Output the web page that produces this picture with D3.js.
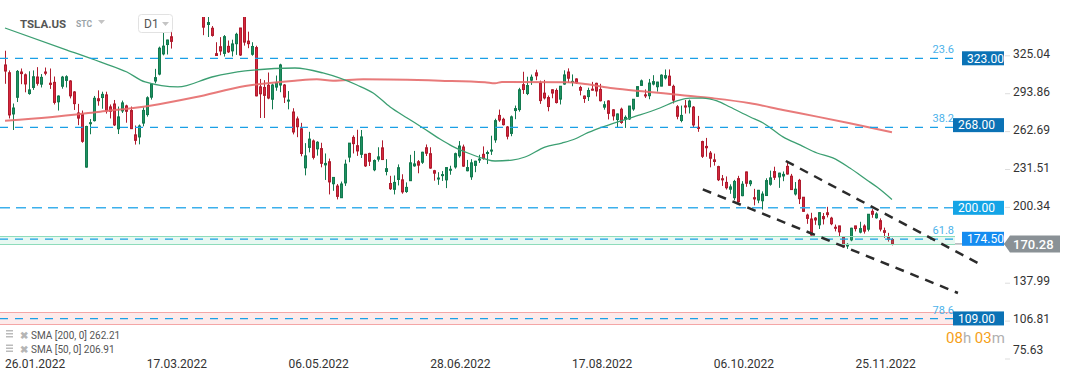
<!DOCTYPE html>
<html><head><meta charset="utf-8">
<script src="https://cdn.jsdelivr.net/npm/d3@7"></script>
<style>
html,body{margin:0;padding:0;background:#fff;}
svg{display:block;font-family:Roboto,"Open Sans",sans-serif;}
</style></head><body>
<svg id="chart" width="1072" height="382"></svg>
<script>
// ---------- DATA (TSLA.US daily, 26.01.2022 – 08.12.2022) ----------
const opens = [
317.5,311.1,277.2,290.9,311.7,309.4,294.0,299.0,307.6,301.7,
311.7,302.5,303.2,287.2,300.0,304.8,304.3,295.3,278.0,276.7,
233.5,269.7,271.7,289.7,290.7,292.9,283.0,285.4,265.0,279.7,
283.8,280.0,260.0,258.3,269.7,276.7,291.0,304.3,310.0,326.6,
334.3,340.7,360.0,369.3,363.0,365.2,361.2,363.1,380.5,357.8,
350.8,347.7,326.8,332.5,327.0,332.8,329.1,335.0,347.9,358.2,
337.1,326.3,331.8,299.5,299.0,300.8,289.3,299.3,301.0,301.0,
288.0,278.8,273.1,265.0,232.9,249.7,255.0,248.5,248.7,235.3,
237.9,219.8,217.9,208.3,220.5,241.7,257.9,251.1,244.0,244.0,
244.7,231.3,240.0,249.3,229.9,220.0,215.2,223.3,223.0,213.4,
222.3,234.5,237.9,237.5,249.4,244.5,230.5,224.5,227.0,223.0,
231.7,233.6,242.8,250.0,230.5,225.5,234.9,240.0,244.0,245.0,
247.1,255.9,276.0,272.8,266.5,261.2,280.0,280.8,301.3,294.0,
305.0,311.0,302.7,294.3,290.7,297.1,296.5,289.4,301.8,311.7,
303.4,306.0,299.0,291.9,291.5,297.6,302.4,297.4,282.8,287.9,
280.6,272.6,281.1,272.7,273.1,281.3,291.7,300.7,292.9,292.2,
301.8,299.6,300.1,306.9,308.3,299.9,283.1,271.8,283.8,283.1,
282.8,266.2,254.5,250.5,245.0,239.4,233.9,223.9,220.9,215.3,
208.3,224.0,210.0,229.5,219.8,208.3,206.4,205.8,210.1,219.4,
229.8,225.4,226.2,234.1,226.0,211.4,222.6,208.7,194.0,190.8,
191.5,186.0,192.8,195.9,191.5,184.0,185.1,175.9,168.6,173.6,
185.1,180.0,185.0,182.4,197.1,191.8,189.4,181.2,175.8,173.9];
const highs = [
329.2,313.0,285.8,313.3,314.6,310.5,312.3,313.0,315.7,310.0,
315.4,314.6,308.0,292.5,308.5,309.0,305.0,296.0,285.5,280.0,
267.5,273.0,292.0,296.6,295.5,295.5,285.0,288.7,283.3,288.2,
284.8,283.3,267.7,268.5,282.7,291.7,302.6,314.3,332.6,346.9,
338.3,345.0,367.0,371.6,370.8,366.7,364.5,383.3,384.3,359.0,
358.9,349.5,336.2,340.4,342.1,337.6,338.3,344.0,348.0,364.1,
344.9,336.2,333.3,306.0,305.0,311.3,302.1,308.8,318.5,301.8,
296.0,281.9,275.1,269.9,253.2,262.5,256.2,254.8,253.5,244.7,
240.5,224.7,219.6,221.6,239.6,253.3,259.6,264.2,264.0,244.4,
245.3,239.8,249.8,255.5,240.0,226.3,226.6,235.7,227.6,220.9,
243.6,246.8,239.3,246.1,252.1,249.8,231.2,229.3,230.2,233.1,
234.6,245.4,254.9,252.0,239.4,240.0,238.7,243.6,250.5,247.1,
259.3,273.3,280.8,274.1,267.3,275.9,284.1,298.7,311.9,307.8,
309.6,313.6,304.6,305.2,292.4,297.5,298.2,300.2,313.1,314.7,
309.7,306.5,300.4,292.4,298.8,303.6,302.9,302.0,287.7,288.5,
281.2,277.6,282.4,276.0,283.8,289.5,299.9,305.5,297.4,306.0,
309.1,303.7,309.8,313.8,313.8,301.3,284.5,284.1,288.7,289.0,
283.7,275.6,255.2,257.5,246.7,244.6,234.6,227.0,225.8,219.3,
223.0,226.3,221.9,229.8,222.9,215.6,214.7,213.5,224.3,230.6,
233.8,228.9,229.9,237.4,227.9,221.2,223.8,208.9,195.2,195.9,
192.4,196.5,195.7,200.8,192.6,186.2,185.2,176.8,170.9,183.6,
185.2,188.5,186.4,194.8,198.9,196.3,191.3,183.7,179.4,175.2];
const lows = [
302.0,273.5,264.0,287.0,301.7,295.0,293.0,297.0,300.5,299.0,
309.0,297.8,285.0,280.0,298.0,299.0,290.0,280.5,268.0,253.5,
233.0,260.5,271.0,284.0,281.5,277.5,273.5,267.3,260.7,278.0,
270.0,264.8,252.0,252.2,267.0,275.0,289.0,302.4,309.0,325.4,
326.1,331.0,358.5,359.5,359.5,359.0,357.4,361.0,362.4,342.0,
340.5,340.8,324.9,325.5,324.4,327.4,324.5,325.8,324.9,333.4,
331.3,325.1,291.7,273.9,273.9,289.3,281.0,296.3,295.1,286.2,
281.0,260.4,258.1,242.4,226.7,245.6,239.8,242.9,233.3,222.9,
211.0,214.0,206.9,208.3,218.0,237.5,244.7,242.7,241.0,233.6,
234.4,230.1,238.0,239.3,226.7,214.7,211.0,218.4,211.6,212.3,
222.2,233.8,228.4,236.1,242.6,232.1,222.3,218.9,222.1,216.2,
227.2,232.2,241.2,233.7,230.0,223.0,229.3,236.9,239.6,236.0,
243.5,253.5,270.7,267.7,256.3,258.9,272.9,279.1,293.7,292.7,
301.1,305.0,285.5,289.1,279.4,290.1,285.8,285.0,301.2,302.9,
300.0,301.9,292.5,286.3,287.9,296.5,291.6,287.5,280.7,272.7,
271.8,266.2,269.1,265.7,272.3,279.8,291.3,300.4,290.4,289.3,
300.7,295.6,300.0,305.6,300.6,285.8,272.8,270.3,277.5,277.6,
265.8,262.5,241.0,242.0,233.3,234.7,222.0,218.0,215.0,211.5,
206.2,204.2,209.5,217.3,217.8,202.0,203.8,198.6,210.0,218.2,
222.9,216.4,221.9,227.3,214.8,210.1,203.1,196.7,186.8,177.1,
186.0,182.6,186.3,192.1,185.7,180.6,176.6,167.5,166.2,172.5,
180.6,179.0,178.8,180.6,191.8,191.1,180.6,175.3,172.2,169.1];
const closes = [
312.5,276.4,282.1,312.2,310.4,301.9,297.0,307.8,302.4,307.3,
310.7,301.5,286.7,291.9,307.5,307.8,292.1,285.7,273.8,254.7,
266.9,270.0,290.1,288.1,293.3,279.8,279.4,268.2,274.8,286.3,
279.4,265.1,255.5,267.3,280.1,290.5,301.8,307.1,331.3,333.0,
338.0,336.9,364.0,366.5,364.7,359.2,361.5,381.8,363.8,348.6,
352.4,341.8,325.3,329.0,340.8,328.3,334.8,342.7,325.7,336.3,
335.0,332.7,292.1,293.8,292.5,290.3,301.0,303.1,317.5,291.1,
288.6,262.4,266.7,244.7,242.7,256.5,241.5,253.9,236.6,236.5,
221.3,225.0,209.4,219.6,235.9,253.2,252.8,246.8,258.3,234.5,
238.3,238.9,241.9,239.7,232.2,215.7,220.9,233.0,213.1,216.8,
237.0,236.1,235.1,245.7,244.9,232.7,228.5,224.5,227.3,233.1,
231.7,244.5,250.8,234.3,233.1,237.0,238.3,240.1,240.5,245.5,
247.5,271.7,272.2,268.4,258.9,274.8,281.6,297.1,297.3,300.6,
307.4,308.6,288.2,290.4,283.3,294.4,286.6,300.0,309.3,306.6,
304.0,302.9,296.7,289.9,296.5,297.1,296.1,288.1,284.8,277.7,
275.6,277.2,270.2,274.4,283.7,289.3,299.7,304.4,292.1,302.6,
303.8,303.4,309.1,308.7,300.8,288.6,275.3,276.0,282.9,287.8,
268.2,265.3,242.4,249.4,240.8,238.1,223.1,223.0,216.5,217.2,
221.7,205.0,219.4,220.2,222.0,207.3,214.4,211.3,222.4,224.6,
225.1,228.5,227.5,227.8,215.0,215.3,207.5,197.1,191.3,177.6,
190.0,196.0,191.0,194.4,186.9,183.2,180.2,167.9,169.9,183.2,
182.9,182.9,180.8,194.7,194.7,194.9,182.5,179.8,174.0,170.28];

// moving averages (candle index, value)
const sma50Idx = [0,15.3,23.5,30.1,34.6,42.7,51.1,59.3,71.6,78.5,86.9,90.9,95.1,99.3,103.2,107.4,110.4,114.3,118.5,121,125.2,128.4,133.3,137.5,140.7,143.2,146.9,151.9,156.8,161.7,165.9,169.1,172.3,175.8,179,184,187.2,192.1,196.3,200.5,204.4,208.6,212.8,215.3,219];
const sma50Val = [347.9,329.8,320.0,311.7,303.5,299.4,307.6,312.6,315.0,310.9,301.0,294.5,282.9,273.9,265.7,256.6,250.8,245.1,240.2,238.5,239.3,241.8,250.0,253.3,256.6,260.7,265.7,271.4,276.4,282.1,287.9,290.3,290.3,287.9,282.9,274.7,269.8,258.3,251.7,245.1,241.0,232.7,222.9,217.1,206.91];
const sma200Idx = [0,11.1,23.5,35.8,46.9,59.3,71.6,77,81,88.4,107.4,118.5,121,122.7,139,143.2,150.1,158.5,166.7,174.8,184,192.1,200.5,208.6,219];
const sma200Val = [271.7,274.5,279.1,284.0,290.9,300.2,304.6,305.7,304.6,305.7,304.6,303.3,302.4,303.5,303.3,301.9,298.3,295.5,292.8,290.1,286.0,280.5,275.0,269.5,262.21];

const priceTicks = [325.04,293.86,262.69,231.51,200.34,137.99,106.81,75.63];
const dateTickIdx = [0,35,70,105,140,175,210];
const dateTickLabels = ["26.01.2022","17.03.2022","06.05.2022","28.06.2022","17.08.2022","06.10.2022","25.11.2022"];

const fibLevels = ["23.6","38.2","61.8","78.6"];
const fibPrices = [323.0,266.2,174.2,108.8];
const tagPrices = [323.00,268.00,200.00,174.50,109.00];
const tagLabels = ["323.00","268.00","200.00","174.50","109.00"];
const lastPrice = 170.28;
const channelUpper = [[192.8,238.5],[240.2,154.6]];
const channelLower = [[172.3,215.2],[235.3,129.9]];
const legendLines = ["SMA [200, 0] 262.21","SMA [50, 0] 206.91"];

// ---------- SCALES ----------
const svg = d3.select("#chart");
const x = d3.scaleLinear().domain([0,219]).range([5,5+219*4.05]);
const y = d3.scaleLinear().domain([75.63,325.04]).range([359,55.8]);

svg.append("defs").append("clipPath").attr("id","plot")
  .append("rect").attr("x",0).attr("y",17).attr("width",1005).attr("height",342);

const plot = svg.append("g").attr("clip-path","url(#plot)");

// candles
const idx = d3.range(closes.length);
const up = i => closes[i] >= opens[i];
const cg = plot.append("g");
cg.selectAll("line").data(idx).join("line")
  .attr("x1",i=>Math.round(x(i))+0.5).attr("x2",i=>Math.round(x(i))+0.5)
  .attr("y1",i=>y(highs[i])).attr("y2",i=>y(lows[i]))
  .attr("stroke",i=>up(i)?"#137a4f":"#b01c2e").attr("stroke-width",1);
cg.selectAll("rect").data(idx).join("rect")
  .attr("x",i=>Math.round(x(i))-0.5).attr("width",2)
  .attr("y",i=>y(Math.max(opens[i],closes[i])))
  .attr("height",i=>Math.max(1,Math.abs(y(opens[i])-y(closes[i]))))
  .attr("fill",i=>up(i)?"#1e9162":"#d6273d")
  .attr("stroke",i=>up(i)?"#137a4f":"#b01c2e").attr("stroke-width",1);

// SMAs
const line = d3.line().curve(d3.curveMonotoneX);
plot.append("path").attr("d",line(sma200Idx.map((d,k)=>[x(d),y(sma200Val[k])])))
  .attr("fill","none").attr("stroke","#e56b6b").attr("stroke-width",2).attr("opacity",0.9);
plot.append("path").attr("d",line(sma50Idx.map((d,k)=>[x(d),y(sma50Val[k])])))
  .attr("fill","none").attr("stroke","#3c9f72").attr("stroke-width",1.3);

// bands (zones)
const band = (p1,p2,fill,stroke)=>{
  plot.append("rect").attr("x",0).attr("width",955).attr("y",y(p1)).attr("height",y(p2)-y(p1))
    .attr("fill",fill).attr("fill-opacity",0.15);
  [p1,p2].forEach(p=>plot.append("line").attr("x1",0).attr("x2",955).attr("y1",Math.round(y(p))+0.5).attr("y2",Math.round(y(p))+0.5)
    .attr("stroke",stroke).attr("stroke-width",1));
};
band(176.8,170.2,"#5fd3a0","#8edcbb");
band(114.3,104.4,"#f07070","#f4a6a6");

// fib dashed lines
fibPrices.forEach((p,k)=>{
  plot.append("line").attr("x1",0).attr("x2",955).attr("y1",y(p)).attr("y2",y(p))
    .attr("stroke","#1aa0e6").attr("stroke-width",1.3).attr("stroke-dasharray","8,7");
  svg.append("text").attr("x",954).attr("y",y(p)-5).attr("text-anchor","end")
    .attr("font-size",11).attr("fill","#4cb2ea").text(fibLevels[k]);
});
// 200 line
plot.append("line").attr("x1",0).attr("x2",955).attr("y1",y(200)).attr("y2",y(200))
  .attr("stroke","#3cb0ec").attr("stroke-width",1.5).attr("stroke-dasharray","10,6");

// channel
[channelUpper,channelLower].forEach(c=>{
  plot.append("line").attr("x1",x(c[0][0])).attr("y1",y(c[0][1])).attr("x2",x(c[1][0])).attr("y2",y(c[1][1]))
    .attr("stroke","#2b2b2b").attr("stroke-width",2.5).attr("stroke-dasharray","9,7");
});

// current price line
svg.append("line").attr("x1",955).attr("x2",1005).attr("y1",y(lastPrice)).attr("y2",y(lastPrice))
  .attr("stroke","#8a9095").attr("stroke-width",1);

// price axis
const ax = svg.append("g");
priceTicks.forEach(v=>{
  const yy = Math.min(y(v),352);
  ax.append("line").attr("x1",1005).attr("x2",1010).attr("y1",y(v)).attr("y2",y(v)).attr("stroke","#ddd");
  ax.append("text").attr("x",1013).attr("y",yy-2).attr("dy","0.35em").attr("font-size",12).attr("fill","#333").text(v.toFixed(2));
});

// tags
const tagLeft = [962,953,953,962,953];
const tagColors = ["#0b72b5","#0b72b5","#14a4e6","#158cf0","#0b72b5"];
tagPrices.forEach((p,k)=>{
  const yy = y(p);
  svg.append("rect").attr("x",tagLeft[k]).attr("y",yy-7).attr("width",1004-tagLeft[k]).attr("height",14).attr("fill",tagColors[k]);
  svg.append("text").attr("x",tagLeft[k]+5).attr("y",yy).attr("dy","0.36em").attr("font-size",12).attr("fill","#fff").text(tagLabels[k]);
});
// last price tag
{
  const yy = y(lastPrice);
  svg.append("path").attr("d",`M1004,${yy} L1010,${yy-8.5} L1060,${yy-8.5} L1060,${yy+8.5} L1010,${yy+8.5} Z`).attr("fill","#8a9196");
  svg.append("text").attr("x",1013).attr("y",yy).attr("dy","0.36em").attr("font-size",13).attr("font-weight","500").attr("fill","#fff").text(lastPrice.toFixed(2));
}

// date axis
dateTickIdx.forEach((d,k)=>{
  svg.append("text").attr("x",x(d)).attr("y",368).attr("font-size",12).attr("fill","#333").text(dateTickLabels[k]);
});

// legend
legendLines.forEach((t,k)=>{
  const yy = 335+k*14.5;
  const g = svg.append("g");
  [-3,0,3].forEach(o=>g.append("rect").attr("x",6).attr("y",yy+o-1-1).attr("width",7).attr("height",1.5).attr("fill","#bbb"));
  g.append("text").attr("x",19.5).attr("y",yy).attr("dy","0.35em").attr("font-size",10).attr("fill","#b5b5b5").attr("font-weight","bold").text("✖");
  g.append("text").attr("x",31).attr("y",yy).attr("dy","0.35em").attr("font-size",10).attr("fill","#555").text(t);
});

// countdown
const cd = svg.append("text").attr("x",946).attr("y",343).attr("font-size",15);
cd.append("tspan").attr("fill","#f5a01a").text("08");
cd.append("tspan").attr("fill","#b0b0b0").text("h ");
cd.append("tspan").attr("fill","#f5a01a").text("03");
cd.append("tspan").attr("fill","#b0b0b0").text("m");

// header
svg.append("text").attr("x",20).attr("y",28).attr("font-size",11.5).attr("font-weight","bold").attr("fill","#555").text("TSLA.US");
svg.append("text").attr("x",76).attr("y",27).attr("font-size",8.5).attr("font-weight","bold").attr("fill","#9aa3a8").text("STC");
svg.append("path").attr("d","M98,20 L105,20 L101.5,24 Z").attr("fill","#c4c4c4");
svg.append("rect").attr("x",138.5).attr("y",14.5).attr("width",34).attr("height",18).attr("rx",3).attr("fill","#fff").attr("stroke","#e2e2e2");
svg.append("text").attr("x",144).attr("y",28).attr("font-size",12).attr("fill","#555").text("D1");
svg.append("path").attr("d","M162,22 L169,22 L165.5,26 Z").attr("fill","#c4c4c4");
</script>
</body></html>
